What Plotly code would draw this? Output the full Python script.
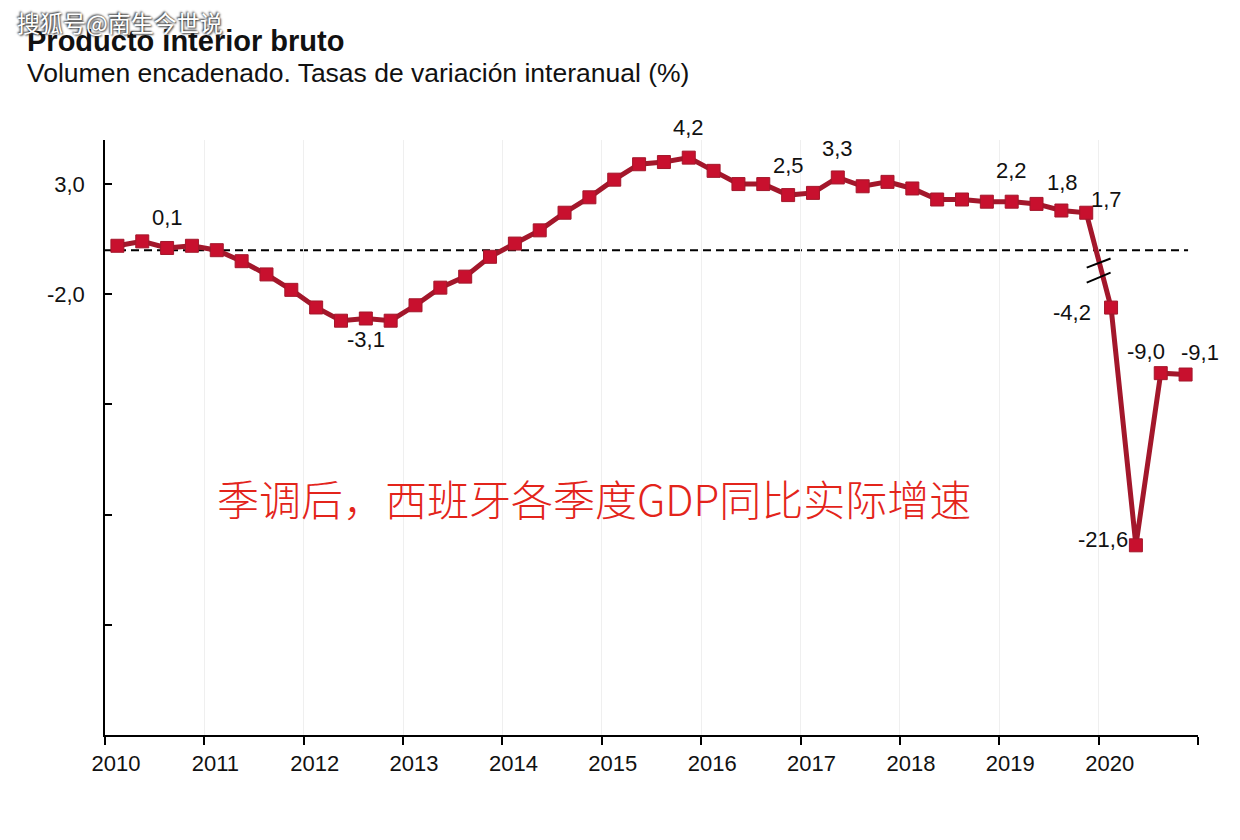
import plotly.graph_objects as go

# ---------------- data ----------------
years = list(range(2010, 2021))
quarters_per_year = 4
gdp_yoy = [0.2, 0.4, 0.1, 0.2, 0.0, -0.5, -1.1, -1.8, -2.6, -3.2,
           -3.1, -3.2, -2.5, -1.7, -1.2, -0.3, 0.3, 0.9, 1.7, 2.4,
           3.2, 3.9, 4.0, 4.2, 3.6, 3.0, 3.0, 2.5, 2.6, 3.3,
           2.9, 3.1, 2.8, 2.3, 2.3, 2.2, 2.2, 2.1, 1.8, 1.7,
           -4.2, -21.6, -9.0, -9.1]
labeled_idx = [2, 10, 23, 27, 29, 36, 38, 39, 40, 41, 42, 43]
y_tick_vals = [3, -2, -7, -12, -17, -22]
y_tick_text = ["3,0", "-2,0", "", "", "", ""]

BREAK_X = 2020.0          # axis break: values after this use a compressed scale
BREAK_SCALE = 0.62

# ---------------- derived ----------------
xq = [2010 + (i + 0.5) / quarters_per_year for i in range(len(gdp_yoy))]
yplot = [v * BREAK_SCALE if x > BREAK_X else v for x, v in zip(xq, gdp_yoy)]

def fmt(v):
    return f"{v:.1f}".replace(".", ",")

# label offsets (xshift, yshift) in px
label_shift = {2: (0, 30), 10: (0, -21), 23: (0, 30), 27: (0, 30), 29: (0, 29),
               36: (0, 31), 38: (1, 28), 39: (20, 13), 40: (-39, -5),
               41: (-33, 6), 42: (-15, 22), 43: (14, 22)}

LINE_C = "#a3172b"
MARK_C = "#c8102e"
FONT = "Liberation Sans, Arial, sans-serif"

fig = go.Figure()
fig.add_trace(go.Scatter(
    x=xq, y=yplot, mode="lines+markers",
    line=dict(color=LINE_C, width=5),
    marker=dict(symbol="square", size=13, color=MARK_C,
                line=dict(color=LINE_C, width=1)),
    hoverinfo="skip", showlegend=False))

annotations = []
for i in labeled_idx:
    dx, dy = label_shift[i]
    annotations.append(dict(x=xq[i], y=yplot[i], text=fmt(gdp_yoy[i]),
                            showarrow=False, xshift=dx, yshift=dy,
                            font=dict(family=FONT, size=22, color="#111111")))

# page has an 8px body margin; figure is drawn at offset (8, 8)
OFF = 8
W, H = 1232, 832
L, T = 105 - OFF, 140 - OFF
R = W - (1198 - OFF)
B = H - (735 - OFF)
pw, ph = W - L - R, H - T - B

def px(xp):
    return (xp - OFF - L) / pw

def py(yp):
    return (H - B - (yp - OFF)) / ph

annotations += [
    dict(xref="paper", yref="paper", x=px(25), y=py(41), xanchor="left", yanchor="middle",
         text="<b>Producto interior bruto</b>", showarrow=False,
         font=dict(family=FONT, size=29, color="#111111")),
    dict(xref="paper", yref="paper", x=px(25), y=py(73), xanchor="left", yanchor="middle",
         text="Volumen encadenado. Tasas de variación interanual (%)", showarrow=False,
         font=dict(family=FONT, size=26.5, color="#111111")),
    dict(xref="paper", yref="paper", x=px(594), y=py(497), xanchor="center", yanchor="middle",
         text="季调后，西班牙各季度GDP同比实际增速", showarrow=False,
         font=dict(family="Noto Sans CJK SC", size=42, color="#e3241b", weight=300)),
    dict(xref="paper", yref="paper", x=px(15), y=py(22), xanchor="left", yanchor="middle",
         text="搜狐号@南生今世说", showarrow=False,
         font=dict(family="Noto Sans CJK SC", size=23, color="#ffffff",
                   shadow="1px 1px 2px #333, -1px -1px 2px #333")),
]

shapes = [
    dict(type="line", xref="x", yref="y", x0=2010, x1=2020.9, y0=0, y1=0,
         line=dict(color="black", width=2, dash="8px,5px"), layer="below"),
    # axis break marks
    dict(type="line", xref="x", yref="y", x0=2019.88, x1=2020.12, y0=-0.79, y1=-0.38,
         line=dict(color="black", width=2)),
    dict(type="line", xref="x", yref="y", x0=2019.88, x1=2020.12, y0=-1.47, y1=-1.02,
         line=dict(color="black", width=2)),
]

fig.update_layout(
    width=W, height=H, margin=dict(l=L, r=R, t=T, b=B),
    paper_bgcolor="white", plot_bgcolor="white",
    annotations=annotations, shapes=shapes,
    font=dict(family=FONT, size=22, color="#111111"),
)
fig.update_xaxes(range=[2010, 2021], tickmode="array",
                 tickvals=years + [2021], ticktext=[str(y) for y in years] + [""],
                 ticks="outside", ticklen=8, tickwidth=1.5, tickcolor="black",
                 showline=True, linecolor="black", linewidth=1.5,
                 showgrid=True, gridcolor="#efefef", gridwidth=1,
                 zeroline=False, ticklabelshift=11,
                 tickfont=dict(family=FONT, size=22, color="#111111"))
fig.update_yaxes(range=[-22, 5], tickmode="array", tickvals=y_tick_vals, ticktext=y_tick_text,
                 ticks="inside", ticklen=7, tickwidth=1.5, tickcolor="black",
                 showline=True, linecolor="black", linewidth=1.5,
                 showgrid=False, zeroline=False, ticklabelstandoff=14,
                 tickfont=dict(family=FONT, size=22, color="#111111"))

fig.write_html("out.html")
